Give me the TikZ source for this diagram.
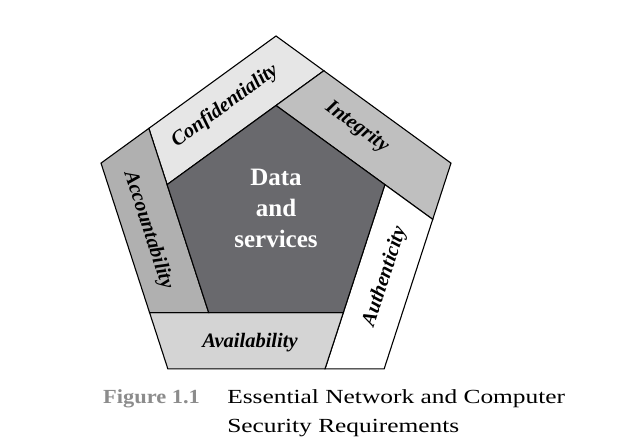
\documentclass[tikz,border=0pt]{standalone}
\usepackage{fontspec}
\setmainfont{Liberation Serif}
\usepackage{tikz}
\usetikzlibrary{calc}
\definecolor{coregray}{HTML}{69696D}
\definecolor{confgray}{HTML}{E6E6E6}
\definecolor{integgray}{HTML}{BFBFBF}
\definecolor{availgray}{HTML}{D4D4D4}
\definecolor{accgray}{HTML}{B0B0B0}
\definecolor{figgray}{HTML}{8C8C8C}
\tikzset{
    myedge/.style={draw=black,line width=1.1pt,line join=miter},
    mylabel/.style={font=\fontsize{20.5}{24}\selectfont\bfseries\itshape,text=black,inner sep=0pt},
    mycore/.style={font=\fontsize{25}{31}\selectfont\bfseries,text=white,align=center,inner sep=0pt},
    mycaption/.style={font=\fontsize{20}{29}\selectfont,anchor=base west,inner sep=0pt,text=black}
}

\begin{document}
\begin{tikzpicture}[x=1pt,y=1pt]
    \useasboundingbox (0,0) rectangle (628,445);
    \coordinate (C) at (276,225);
    \pgfmathsetmacro{\ext}{(184-114.5)*cos(36)/(2*114.5*sin(36)*cos(18))}

    % 外五边形与内五边形的顶点
    \foreach \j/\a in {1/90,2/162,3/234,4/306,5/18}{
        \coordinate (O\j) at ($(C)+(\a:184)$);
        \coordinate (I\j) at ($(C)+(\a:114.5)$);
    }

    % 内边延长到外边的交点
    \foreach \j/\n in {1/2,2/3,3/4,4/5,5/1}{
        \coordinate (X\j) at ($(I\j)!-\ext!(I\n)$);
    }

    % 五条带
    \foreach \j/\n/\c in {1/2/confgray,5/1/integgray,4/5/white,3/4/availgray,2/3/accgray}{
        \filldraw[myedge,fill=\c] (I\n)--(I\j)--(X\j)--(O\j)--(X\n)--cycle;
    }

    % 中心
    \filldraw[myedge,fill=coregray] (I1)--(I2)--(I3)--(I4)--(I5)--cycle;

    % 标签
    \node[mylabel,rotate=36] (conf) at (225,339) {Confidentiality};
    \node[mylabel,rotate=-36] (integ) at (357,318) {Integrity};
    \node[mylabel,rotate=72] (authen) at (385,168) {Authenticity};
    \node[mylabel] (avail) at (250,102) {Availability};
    \node[mylabel,rotate=-72] (account) at (148,215) {Accountability};
    \node[mycore] (core) at (276,237) {Data\\and\\services};

    % 图题
    \node[
        mycaption,
        text=figgray,
        font=\fontsize{20}{29}\selectfont\bfseries,
        xscale=1.12
    ] (fignum) at (103,42) {Figure 1.1};
    \node[mycaption,xscale=1.27] (capone) at (227,42) {Essential Network and Computer};
    \node[mycaption,xscale=1.27] (captwo) at (227,13) {Security Requirements};
\end{tikzpicture}
\end{document}
